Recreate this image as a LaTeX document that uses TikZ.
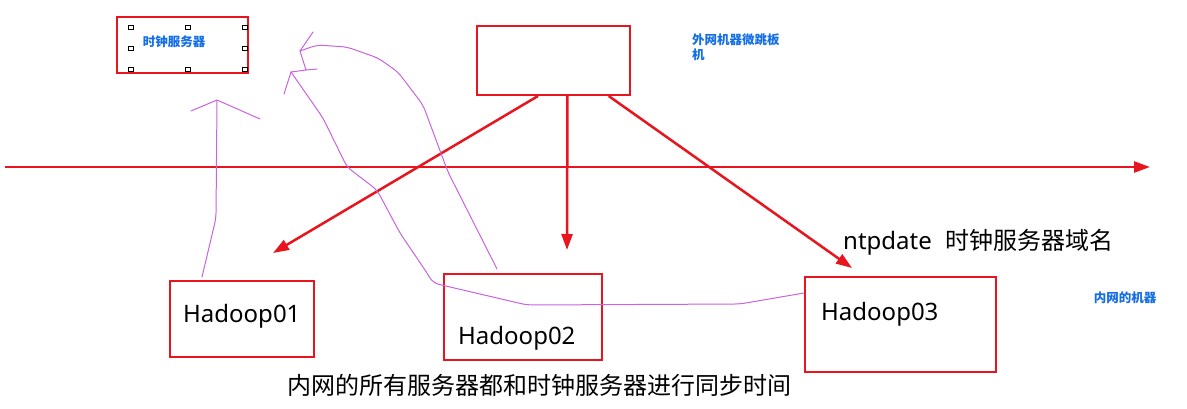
\documentclass[tikz,border=0pt]{standalone}
\usepackage{fontspec}
\setmainfont{Noto Sans}
\newfontfamily\cjk{Noto Sans CJK SC}
\usetikzlibrary{arrows.meta,calc}
\definecolor{boxred}{RGB}{232,20,30}
\definecolor{netblue}{RGB}{20,110,230}
\definecolor{pen}{RGB}{200,100,220}
\begin{document}
\begin{tikzpicture}[x=1pt,y=-1pt,
  box/.style={draw=boxred,line width=2pt,rectangle,inner sep=0pt},
  redarrow/.style={draw=boxred,line width=2.5pt,-{Triangle[length=16pt,width=11pt]}},
  handle/.style={draw=black,fill=white,line width=0.6pt,minimum size=4.5pt,inner sep=0pt,rectangle},
  bluetxt/.style={text=netblue,font=\cjk\bfseries\fontsize{12.5}{15}\selectfont,inner sep=0pt},
  bigtxt/.style={text=black,font=\fontsize{24}{28}\selectfont,inner sep=0pt},
  penline/.style={draw=pen,line width=1pt,line join=round,line cap=round,rounded corners=6pt},
  penarm/.style={draw=pen,line width=1pt,line join=round,line cap=round}]
\useasboundingbox[fill=white] (0,0) rectangle (1187,408);

% boxes
\node[box,minimum width=131pt,minimum height=56pt] (clock) at (182.5,45) {};
\node[box,minimum width=153pt,minimum height=69pt] (ext) at (553.5,60.5) {};
\node[box,minimum width=144pt,minimum height=76pt] (hd1) at (242,319) {};
\node[box,minimum width=158pt,minimum height=86pt] (hd2) at (523,317) {};
\node[box,minimum width=191pt,minimum height=95pt] (hd3) at (900.5,324.5) {};

% selection handles
\node[handle] (hA) at (131,27.5) {};
\node[handle] (hB) at (188,27.5) {};
\node[handle] (hC) at (245,27.5) {};
\node[handle] (hD) at (131,48.5) {};
\node[handle] (hE) at (245,48.5) {};
\node[handle] (hF) at (131,69.5) {};
\node[handle] (hG) at (188,69.5) {};
\node[handle] (hH) at (245,69.5) {};

% texts
\node[bluetxt] (clocktxt) at (174,42) {时钟服务器};
\node[bluetxt,anchor=north west,align=left] (exttxt) at (692,34) {外网机器微跳板\\机};
\node[bluetxt] (innertxt) at (1125,298) {内网的机器};
\node[bigtxt,anchor=base west] (hd1txt) at (183,322) {Hadoop01};
\node[bigtxt,anchor=base west] (hd2txt) at (458,344) {Hadoop02};
\node[bigtxt,anchor=base west] (hd3txt) at (821,320.5) {Hadoop03};
\node[bigtxt,anchor=base west] (ntp) at (843,249) {ntpdate\hspace{14pt}{\cjk 时钟服务器域名}};
\node[bigtxt,anchor=base west,font=\cjk\fontsize{24}{28}\selectfont] (bottom) at (287,394) {内网的所有服务器都和时钟服务器进行同步时间};

% horizontal line
\coordinate (lineL) at (5,167);
\coordinate (lineR) at (1150,167);
\draw[redarrow] (lineL) -- (lineR);

% red arrows from the jump machine
\coordinate (t1) at (273,253);
\coordinate (t2) at (567,250);
\coordinate (t3) at (852,268);
\draw[redarrow] ($(ext.south west)!0.4!(ext.south east)$) -- (t1);
\draw[redarrow] ($(ext.south west)!0.59!(ext.south east)$) -- (t2);
\draw[redarrow] ($(ext.south west)!0.856!(ext.south east)$) -- (t3);

% hand-drawn purple arrows
\draw[penline] ($(hd1.north west)+(33,-3)$) -- (216,218) -- (217,100);
\draw[penarm] (191,111) -- (217,100) -- (260,119);

\draw[penline] ($(hd2.north west)+(54,-4)$) -- (448,172) -- (423,105) -- (398,72) -- (378,58) -- (347,47) -- (317,45) -- (300,51);
\draw[penarm] (313,32) -- (300,51) -- (306,70);

\draw[penline] ($(hd3.north west)+(0,17)$) -- (740,304) -- (527,305) -- (433,283) -- (427,273) -- (400,233) -- (377,190) -- (347,167) -- (323,118) -- (291,72);
\draw[penarm] (284,94) -- (291,72) -- (306,70) -- (317,69);
\end{tikzpicture}
\end{document}
